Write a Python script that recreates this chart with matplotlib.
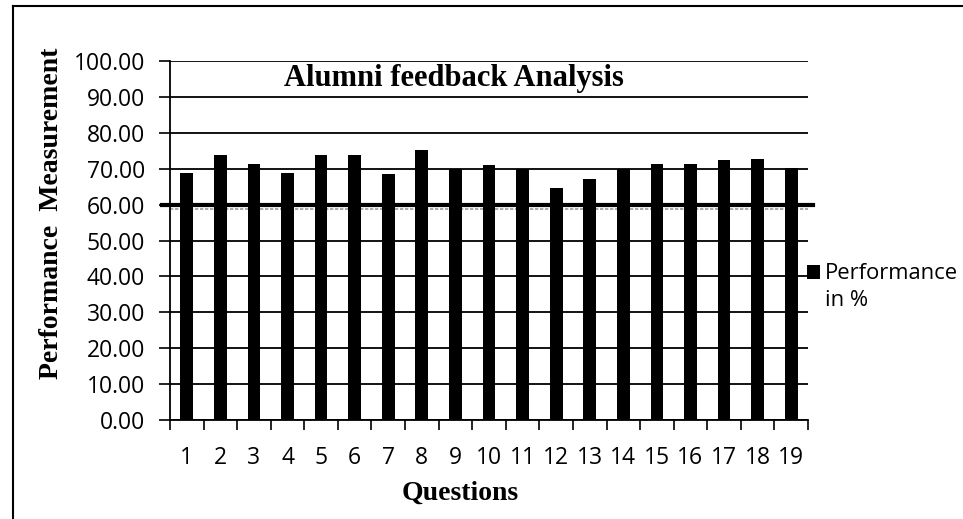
import matplotlib
matplotlib.use("Agg")
import matplotlib.pyplot as plt
import matplotlib.transforms as mtransforms
from matplotlib.patches import Rectangle
from matplotlib.lines import Line2D
import numpy as np

questions = [str(i) for i in range(1, 20)]
performance = [68.9, 73.9, 71.3, 68.8, 73.8, 73.8, 68.6, 75.1, 70.0, 71.1,
               69.8, 64.6, 67.2, 69.9, 71.2, 71.2, 72.5, 72.6, 70.1]
yticks = [0, 10, 20, 30, 40, 50, 60, 70, 80, 90, 100]
threshold = 60
title = "Alumni feedback Analysis"
legend_label = "Performance\nin %"

W, H = 963, 519
fig = plt.figure(figsize=(W / 100, H / 100), dpi=100)
fig.patch.set_facecolor("white")

ax = fig.add_axes([170 / W, 1 - 420 / H, (808 - 170) / W, (420 - 61) / H])
x = np.arange(len(questions))
ax.bar(x, performance, width=0.38, color="black", zorder=3)

ax.set_xlim(-0.5, len(questions) - 0.5)
ax.set_ylim(0, 100)
ax.set_yticks(yticks)
ax.set_yticklabels([f"{v:.2f}" for v in yticks], fontfamily="Open Sans", fontsize=16.5)
ax.set_xticks(x)
ax.set_xticklabels(questions, fontfamily="Open Sans", fontsize=16.5)
ax.tick_params(axis="x", which="major", length=0, pad=19)
ax.set_xticks(np.arange(-0.5, len(questions)), minor=True)
ax.tick_params(axis="x", which="minor", length=7, width=1.2, color="black", direction="out")
ax.tick_params(axis="y", length=8, width=1.2, color="black", direction="out", pad=10)

for v in yticks:
    ax.axhline(v, color="black", lw=1.3, zorder=1)

# threshold line
ax.plot([-0.75, 18.65], [threshold, threshold], color="black", lw=3.0, zorder=4, clip_on=False)
ax.axhline(threshold - 1.3, color="#9a9a9a", lw=1.2, ls=(0, (2, 1)), zorder=2)

for s in ["top", "right"]:
    ax.spines[s].set_visible(False)
ax.spines["left"].set_linewidth(1.3)
ax.spines["bottom"].set_linewidth(1.3)

ax.text(0.445, 95, title,
        transform=mtransforms.blended_transform_factory(ax.transAxes, ax.transData),
        ha="center", va="center", fontfamily="Liberation Serif", fontweight="bold",
        fontsize=22, zorder=5)

fig.text(52 / W, 1 - 213 / H, "Performance  Measurement", rotation=90, ha="center", va="center",
         fontfamily="Liberation Serif", fontweight="bold", fontsize=20)
fig.text(460 / W, 1 - 493 / H, "Questions", ha="center", va="center",
         fontfamily="Liberation Serif", fontweight="bold", fontsize=20)

# legend
fig.patches.append(Rectangle((807 / W, 1 - 279 / H), 13 / W, 14 / H, transform=fig.transFigure,
                             facecolor="black", edgecolor="none"))
fig.text(825 / W, 1 - 287 / H, legend_label, ha="left", va="center", fontfamily="Open Sans",
         fontsize=15.8, linespacing=1.4)

# outer frame
fig.add_artist(Line2D([13 / W, 13 / W], [0, 1 - 6 / H], transform=fig.transFigure, color="black", lw=1.5))
fig.add_artist(Line2D([13 / W, 1], [1 - 6 / H, 1 - 6 / H], transform=fig.transFigure, color="black", lw=1.5))

fig.savefig("out.png", dpi=100)
